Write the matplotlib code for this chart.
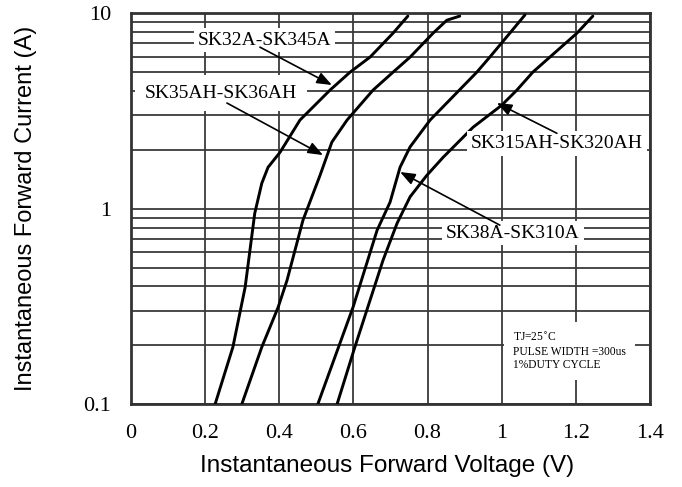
import matplotlib.pyplot as plt
from matplotlib.ticker import FixedLocator, NullFormatter

# forward characteristics (V, A)
v_sk32 = [0.227, 0.275, 0.308, 0.334, 0.353, 0.370, 0.402, 0.456, 0.537, 0.591, 0.645, 0.707, 0.747]
i_sk32 = [0.10, 0.196, 0.396, 0.948, 1.35, 1.63, 1.94, 2.84, 4.04, 4.99, 5.96, 7.9, 9.66]

v_sk35 = [0.299, 0.353, 0.397, 0.421, 0.464, 0.510, 0.542, 0.583, 0.653, 0.707, 0.753, 0.815, 0.852, 0.887]
i_sk35 = [0.10, 0.196, 0.313, 0.43, 0.873, 1.48, 2.19, 2.84, 4.04, 4.99, 5.96, 7.9, 9.2, 9.66]

v_sk38 = [0.504, 0.599, 0.664, 0.699, 0.726, 0.753, 0.807, 0.933, 0.968, 1.022, 1.063]
i_sk38 = [0.10, 0.313, 0.776, 1.08, 1.63, 2.07, 2.84, 4.99, 5.96, 7.9, 9.8]

v_sk315 = [0.556, 0.604, 0.680, 0.718, 0.753, 0.798, 0.842, 0.923, 1.0, 1.041, 1.084, 1.13, 1.203, 1.246]
i_sk315 = [0.10, 0.196, 0.545, 0.843, 1.15, 1.48, 1.83, 2.61, 3.38, 4.04, 4.99, 5.96, 7.9, 9.66]

x_ticks = [0, 0.2, 0.4, 0.6, 0.8, 1.0, 1.2, 1.4]
x_labels = ["0", "0.2", "0.4", "0.6", "0.8", "1", "1.2", "1.4"]
y_ticks = [0.1, 1, 10]
y_labels = ["0.1", "1", "10"]

serif = "Liberation Serif"
sans = "Liberation Sans"
grid_c = "#3a3a3a"

fig = plt.figure(figsize=(6.82, 4.87), dpi=100)
ax = fig.add_axes([0.192, 0.170, 0.761, 0.803])

ax.set_yscale("log")
ax.set_xlim(0, 1.4)
ax.set_ylim(0.1, 10)

ax.set_xticks(x_ticks)
ax.set_xticklabels(x_labels, fontfamily=serif, fontsize=16)
ax.set_yticks(y_ticks)
ax.set_yticklabels(y_labels, fontfamily=serif, fontsize=16)
ax.yaxis.set_minor_locator(FixedLocator([k * d for d in (0.1, 1) for k in range(2, 10)]))
ax.yaxis.set_minor_formatter(NullFormatter())
ax.tick_params(which="both", length=0)
ax.tick_params(axis="x", pad=14)
ax.tick_params(axis="y", pad=14)

ax.grid(True, which="both", axis="y", color=grid_c, lw=1.3, zorder=1)
ax.grid(True, which="major", axis="x", color=grid_c, lw=1.3, zorder=1)
for s in ax.spines.values():
    s.set_linewidth(2.0)
    s.set_color("#333333")

for v, i in [(v_sk32, i_sk32), (v_sk35, i_sk35), (v_sk38, i_sk38), (v_sk315, i_sk315)]:
    ax.plot(v, i, color="black", lw=2.1, solid_capstyle="round", solid_joinstyle="round", zorder=3)

box = dict(boxstyle="square,pad=0.2", fc="white", ec="none")
arrow = dict(arrowstyle="-|>,head_length=0.9,head_width=0.35", color="black", lw=1.2,
             shrinkA=0, shrinkB=0)

ax.text(0.361, 7.28, "SK32A-SK345A", fontfamily=serif, fontsize=14,
        ha="center", va="center", bbox=box, zorder=4)
ax.text(0.243, 3.90, "SK35AH-SK36AH", fontfamily=serif, fontsize=14,
        ha="center", va="center", bbox=dict(boxstyle="square,pad=0.5", fc="white", ec="none"), zorder=4)
ax.text(1.149, 2.16, "SK315AH-SK320AH", fontfamily=serif, fontsize=14,
        ha="center", va="center", bbox=box, zorder=4)
ax.text(1.030, 0.75, "SK38A-SK310A", fontfamily=serif, fontsize=14,
        ha="center", va="center", bbox=box, zorder=4)

ax.annotate("", xy=(0.542, 4.29), xytext=(0.348, 6.70), arrowprops=arrow, zorder=5)
ax.annotate("", xy=(0.518, 1.88), xytext=(0.259, 3.47), arrowprops=arrow, zorder=5)
ax.annotate("", xy=(0.987, 3.47), xytext=(1.149, 2.43), arrowprops=arrow, zorder=5)
ax.annotate("", xy=(0.726, 1.54), xytext=(0.995, 0.824), arrowprops=arrow, zorder=5)

ax.text(1.030, 0.187, "TJ=25$^{\\circ}$C\nPULSE WIDTH =300us\n1%DUTY CYCLE",
        fontfamily=serif, fontsize=8.3, ha="left", va="center", linespacing=1.15,
        bbox=dict(boxstyle="square,pad=0.8", fc="white", ec="none"), zorder=4)

ax.set_xlabel("Instantaneous Forward Voltage (V)", fontfamily=sans, fontsize=17.5)
ax.set_ylabel("Instantaneous Forward Current (A)", fontfamily=sans, fontsize=17)
ax.xaxis.set_label_coords(0.494, -0.13)
ax.yaxis.set_label_coords(-0.181, 0.5)

fig.savefig("out.png", dpi=100)
